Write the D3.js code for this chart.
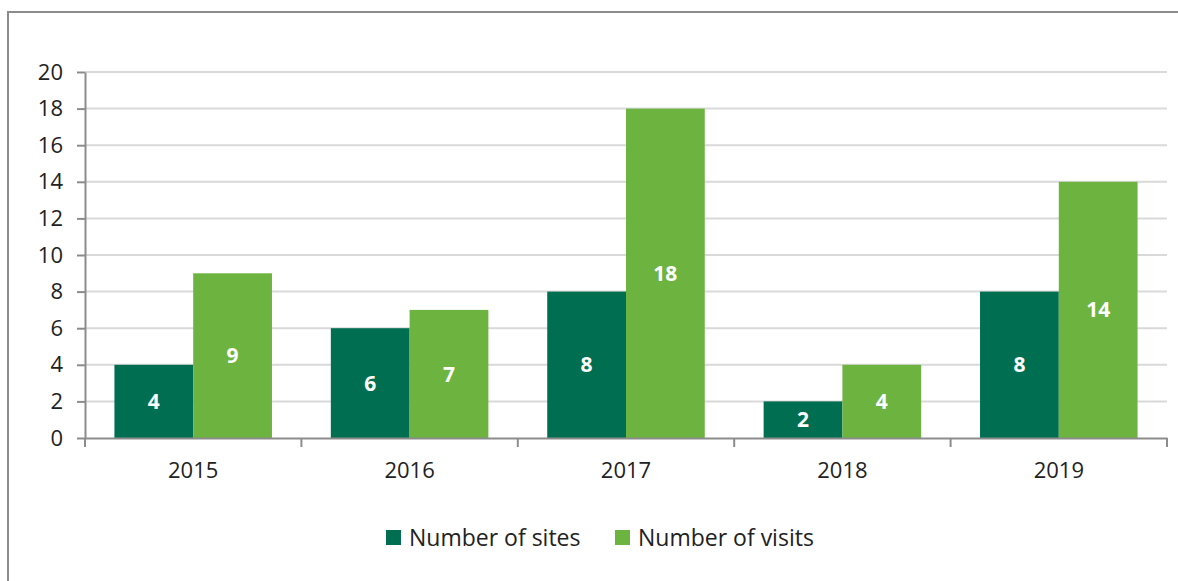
<!DOCTYPE html>
<html>
<head>
<meta charset="utf-8">
<script src="https://cdn.jsdelivr.net/npm/d3@7"></script>
<style>
  body { margin: 0; background: #fff; }
  text { font-family: "Open Sans", "Noto Sans", sans-serif; }
</style>
</head>
<body>
<div id="chart"></div>
<script>
// chart data
var years = ['2015', '2016', '2017', '2018', '2019'];
var sites = [4, 6, 8, 2, 8];
var visits = [9, 7, 18, 4, 14];
var seriesNames = ['Number of sites', 'Number of visits'];
var seriesColors = ['#006f51', '#6db33f'];
var yTicks = [0, 2, 4, 6, 8, 10, 12, 14, 16, 18, 20];

var svgWidth = 1178;
var svgHeight = 581;

var margin = { top: 72, right: 11, bottom: 143, left: 85 };
var width = svgWidth - margin.left - margin.right;
var height = svgHeight - margin.top - margin.bottom;

var svg = d3.select('#chart').append('svg')
  .attr('width', svgWidth)
  .attr('height', svgHeight);

// outer frame
svg.append('rect')
  .attr('x', 8).attr('y', 12)
  .attr('width', 1200).attr('height', 600)
  .attr('fill', 'none')
  .attr('stroke', '#8c8c8c')
  .attr('stroke-width', 2);

var chartGroup = svg.append('g')
  .attr('transform', `translate(${margin.left}, ${margin.top})`);

var x0 = d3.scaleBand().domain(years).range([0, width]).paddingInner(0).paddingOuter(0);
var x1 = d3.scaleBand().domain([0, 1]).range([x0.bandwidth() * 0.136, x0.bandwidth() * 0.864]);
var y = d3.scaleLinear().domain([0, 20]).range([height, 0]);

// gridlines
chartGroup.selectAll('.grid')
  .data(yTicks.slice(1))
  .enter().append('line')
  .attr('x1', 0).attr('x2', width)
  .attr('y1', d => y(d)).attr('y2', d => y(d))
  .attr('stroke', '#d9d9d9')
  .attr('stroke-width', 2);

// bars
var groups = chartGroup.selectAll('.year')
  .data(years)
  .enter().append('g')
  .attr('transform', d => `translate(${x0(d)},0)`);

groups.each(function(yr, i) {
  var g = d3.select(this);
  [sites[i], visits[i]].forEach(function(v, s) {
    g.append('rect')
      .attr('x', x1(s))
      .attr('y', y(v))
      .attr('width', x1.bandwidth())
      .attr('height', height - y(v))
      .attr('fill', seriesColors[s]);
    g.append('text')
      .attr('x', x1(s) + x1.bandwidth() / 2)
      .attr('y', (y(v) + height) / 2)
      .attr('dy', '0.36em')
      .attr('text-anchor', 'middle')
      .attr('fill', '#fff')
      .attr('font-weight', 'bold')
      .attr('font-size', '21px')
      .text(v);
  });
});

// y axis
var yAxis = chartGroup.append('g')
  .call(d3.axisLeft(y).tickValues(yTicks).tickSize(8).tickPadding(14).tickSizeOuter(0));
yAxis.select('.domain').attr('stroke', '#8c8c8c').attr('stroke-width', 2);
yAxis.selectAll('.tick line').attr('stroke', '#8c8c8c').attr('stroke-width', 2);
yAxis.selectAll('.tick text').attr('font-size', '22px').attr('fill', '#222');

// x axis
var xAxis = chartGroup.append('g')
  .attr('transform', `translate(0, ${height})`)
  .call(d3.axisBottom(x0).tickSize(0).tickPadding(24));
xAxis.select('.domain').attr('stroke', '#8c8c8c').attr('stroke-width', 2);
xAxis.selectAll('.tick text').attr('font-size', '22px').attr('fill', '#222');

// category boundary ticks
xAxis.selectAll('.bound')
  .data(d3.range(years.length + 1))
  .enter().append('line')
  .attr('x1', d => d * x0.bandwidth()).attr('x2', d => d * x0.bandwidth())
  .attr('y1', 0).attr('y2', 9)
  .attr('stroke', '#8c8c8c')
  .attr('stroke-width', 2);

// legend
var legendX = [386, 615];
var legend = svg.append('g');
seriesNames.forEach(function(name, s) {
  legend.append('rect')
    .attr('x', legendX[s]).attr('y', 530)
    .attr('width', 15).attr('height', 15)
    .attr('fill', seriesColors[s]);
  legend.append('text')
    .attr('x', legendX[s] + 23).attr('y', 538)
    .attr('dy', '0.36em')
    .attr('font-size', '23px')
    .attr('fill', '#222')
    .text(name);
});
</script>
</body>
</html>
